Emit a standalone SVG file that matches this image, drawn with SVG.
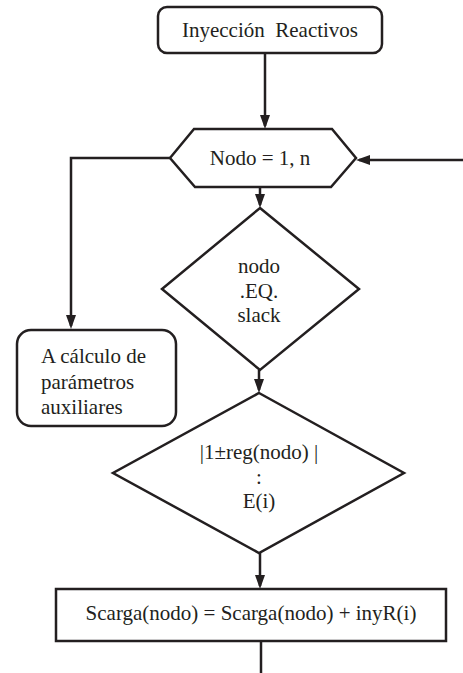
<svg xmlns="http://www.w3.org/2000/svg" width="463" height="673" viewBox="0 0 463 673">
<style>
.shape{fill:#fff;stroke:#231f20;stroke-width:2.5}
.conn{fill:none;stroke:#231f20;stroke-width:2.5}
.t{font-family:'Liberation Serif','Times New Roman','DejaVu Serif',serif;font-size:21px;fill:#231f20}
.c{text-anchor:middle}
</style>
<defs>
<marker id="arr" viewBox="0 0 14 10" refX="11" refY="5" markerWidth="14" markerHeight="10" markerUnits="userSpaceOnUse" orient="auto">
<path d="M0,0 L14,5 L0,10 z" fill="#231f20"/>
</marker>
</defs>
<rect width="463" height="673" fill="#fff"/>
<g id="connectors">
<path class="conn" d="M265,53 V126" marker-end="url(#arr)"/>
<path class="conn" d="M170,158 H71 V326" marker-end="url(#arr)"/>
<path class="conn" d="M463,160 H359" marker-end="url(#arr)"/>
<path class="conn" d="M260,187 V205" marker-end="url(#arr)"/>
<path class="conn" d="M259,370 V390" marker-end="url(#arr)"/>
<path class="conn" d="M260,553 V586" marker-end="url(#arr)"/>
<path class="conn" d="M261,641 V673"/>
</g>
<g id="start">
<rect class="shape" x="158" y="7" width="224" height="46" rx="9"/>
<text class="t c" font-family="Liberation Serif, serif" x="270" y="37" xml:space="preserve">Inyección  Reactivos</text>
</g>
<g id="loop">
<polygon class="shape" points="170,158 194,129 332,129 356,158 331,187 195,187"/>
<text class="t c" font-family="Liberation Serif, serif" x="260" y="165">Nodo = 1, n</text>
</g>
<g id="slack">
<polygon class="shape" points="260,208 359,289 260,370 162,289"/>
<text class="t c" font-family="Liberation Serif, serif" x="259" y="273">nodo</text>
<text class="t c" font-family="Liberation Serif, serif" x="259" y="298">.EQ.</text>
<text class="t c" font-family="Liberation Serif, serif" x="259" y="322">slack</text>
</g>
<g id="aux">
<rect class="shape" x="17" y="330" width="159" height="96" rx="14"/>
<text class="t" font-family="Liberation Serif, serif" x="41" y="363">A cálculo de</text>
<text class="t" font-family="Liberation Serif, serif" x="41" y="389">parámetros</text>
<text class="t" font-family="Liberation Serif, serif" x="41" y="414">auxiliares</text>
</g>
<g id="reg">
<polygon class="shape" points="259,393 404,473 259,553 113,473"/>
<text class="t c" font-family="Liberation Serif, serif" x="259" y="459">|1±reg(nodo) |</text>
<text class="t c" font-family="Liberation Serif, serif" x="259" y="484">:</text>
<text class="t c" font-family="Liberation Serif, serif" x="259" y="508">E(i)</text>
</g>
<g id="scarga">
<rect class="shape" x="56" y="589" width="390" height="52"/>
<text class="t c" font-family="Liberation Serif, serif" x="251" y="620">Scarga(nodo) = Scarga(nodo) + inyR(i)</text>
</g>
</svg>
